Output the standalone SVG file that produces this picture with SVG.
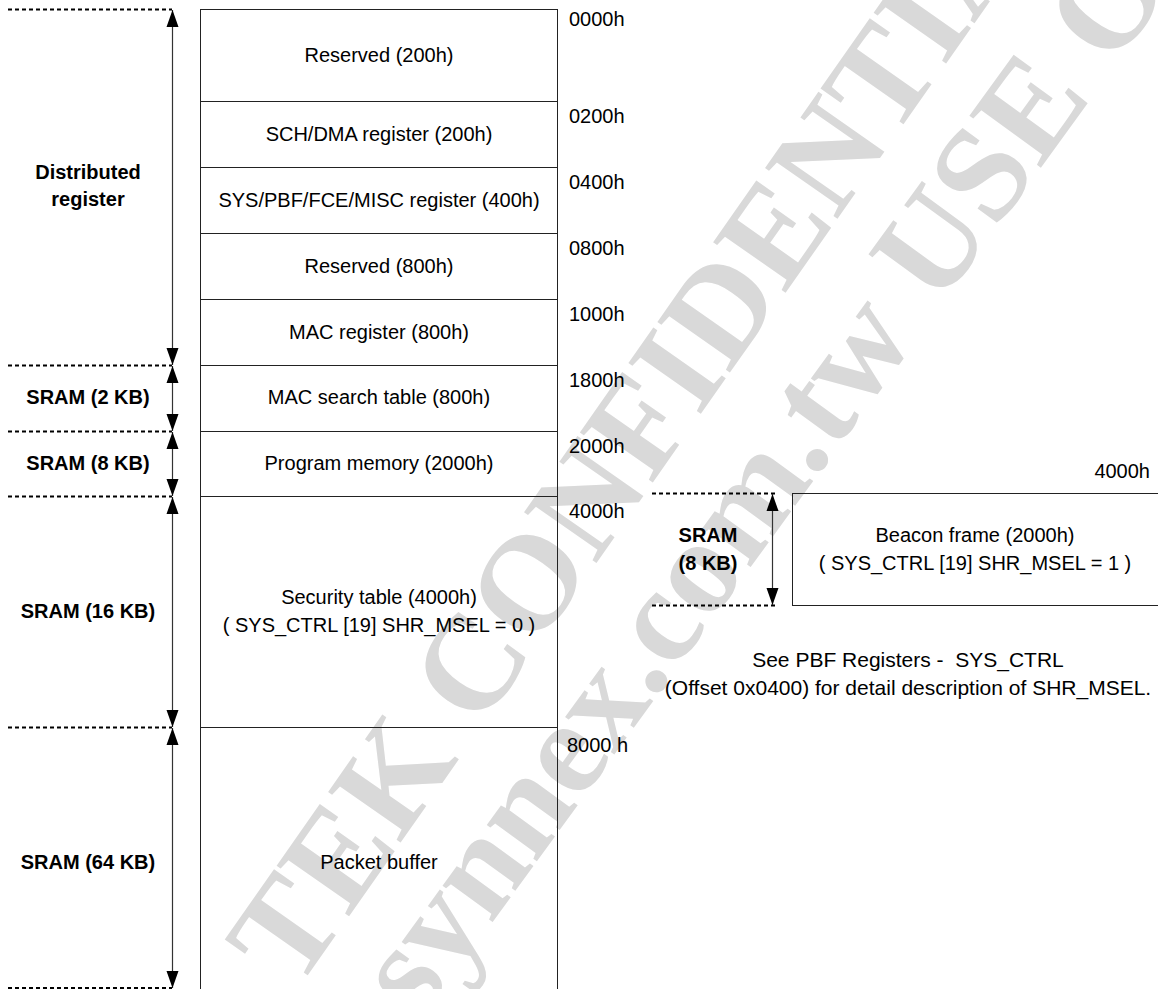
<svg xmlns="http://www.w3.org/2000/svg" width="1158" height="989" viewBox="0 0 1158 989">
<defs>
<marker id="ah" markerUnits="userSpaceOnUse" markerWidth="18" markerHeight="13" refX="17" refY="6" orient="auto-start-reverse" viewBox="0 0 18 12">
<path d="M0,0 L17,6 L0,12 z" fill="#000"/>
</marker>
<style>
.t{font-family:"Liberation Sans",Arial,sans-serif;font-size:20px;fill:#000;text-anchor:middle}
.n{font-family:"Liberation Sans",Arial,sans-serif;font-size:21px;fill:#000;text-anchor:middle}
.b{font-family:"Liberation Sans",Arial,sans-serif;font-size:20px;font-weight:bold;fill:#000;text-anchor:middle}
.a{font-family:"Liberation Sans",Arial,sans-serif;font-size:20px;fill:#000}
.box{fill:none;stroke:#222;stroke-width:1}
.dash{stroke:#000;stroke-width:2;stroke-dasharray:4 3;fill:none}
.arr{stroke:#333;stroke-width:1.2;fill:none}
.wm{font-family:"Liberation Serif","Times New Roman",serif;font-weight:bold;font-size:135px;fill:#d9d9d9}
</style>
</defs>
<rect width="1158" height="989" fill="#fff"/>
<g id="watermark">
<text class="wm" transform="translate(296,992) rotate(-55)">TEK CONFIDENTIAL</text>
<text class="wm" transform="translate(420,1022) rotate(-54)">synnex.com.tw USE O</text>
</g>
<g id="row-reserved-200"><rect class="box" x="200.5" y="9.5" width="357" height="92"/><text class="t" x="379" y="62">Reserved (200h)</text></g>
<g id="row-sch-dma"><rect class="box" x="200.5" y="101.5" width="357" height="66"/><text class="t" x="379" y="141">SCH/DMA register (200h)</text></g>
<g id="row-sys"><rect class="box" x="200.5" y="167.5" width="357" height="66"/><text class="t" x="379" y="207">SYS/PBF/FCE/MISC register (400h)</text></g>
<g id="row-reserved-800"><rect class="box" x="200.5" y="233.5" width="357" height="66"/><text class="t" x="379" y="273">Reserved (800h)</text></g>
<g id="row-mac-reg"><rect class="box" x="200.5" y="299.5" width="357" height="66"/><text class="t" x="379" y="339">MAC register (800h)</text></g>
<g id="row-mac-search"><rect class="box" x="200.5" y="365.5" width="357" height="66"/><text class="t" x="379" y="404">MAC search table (800h)</text></g>
<g id="row-program"><rect class="box" x="200.5" y="431.5" width="357" height="65"/><text class="t" x="379" y="470">Program memory (2000h)</text></g>
<g id="row-security"><rect class="box" x="200.5" y="496.5" width="357" height="231"/><text class="t" x="379" y="604">Security table (4000h)</text><text class="t" x="379" y="632">( SYS_CTRL [19] SHR_MSEL = 0 )</text></g>
<g id="row-packet"><rect class="box" x="200.5" y="727.5" width="357" height="300"/><text class="t" x="379" y="869">Packet buffer</text></g>
<g id="beacon"><rect class="box" x="792.5" y="493.5" width="400" height="112"/><text class="t" x="975" y="542">Beacon frame (2000h)</text><text class="t" x="975" y="570">( SYS_CTRL [19] SHR_MSEL = 1 )</text></g>
<g id="addresses">
<text class="a" x="569" y="26">0000h</text>
<text class="a" x="569" y="123">0200h</text>
<text class="a" x="569" y="189">0400h</text>
<text class="a" x="569" y="255">0800h</text>
<text class="a" x="569" y="321">1000h</text>
<text class="a" x="569" y="387">1800h</text>
<text class="a" x="569" y="453">2000h</text>
<text class="a" x="569" y="518">4000h</text>
<text class="a" x="567" y="752">8000 h</text>
<text class="a" x="1150" y="478" text-anchor="end">4000h</text>
</g>
<g id="labels">
<text class="b" x="88" y="179">Distributed</text>
<text class="b" x="88" y="206">register</text>
<text class="b" x="88" y="404">SRAM (2 KB)</text>
<text class="b" x="88" y="470">SRAM (8 KB)</text>
<text class="b" x="88" y="618">SRAM (16 KB)</text>
<text class="b" x="88" y="869">SRAM (64 KB)</text>
<text class="b" x="708" y="542">SRAM</text>
<text class="b" x="708" y="570">(8 KB)</text>
</g>
<g id="note">
<text class="n" x="908" y="667" xml:space="preserve">See PBF Registers -  SYS_CTRL</text>
<text class="n" x="908" y="695">(Offset 0x0400) for detail description of SHR_MSEL.</text>
</g>
<g id="connectors">
<path class="dash" d="M8,9.5H172M8,365.5H172M8,431.5H172M8,496.5H172M8,727.5H172M8,988H172M652,493.5H777M652,605.5H777"/>
<line class="arr" x1="172.5" y1="10" x2="172.5" y2="365" marker-start="url(#ah)" marker-end="url(#ah)"/>
<line class="arr" x1="172.5" y1="366" x2="172.5" y2="431" marker-start="url(#ah)" marker-end="url(#ah)"/>
<line class="arr" x1="172.5" y1="432" x2="172.5" y2="496" marker-start="url(#ah)" marker-end="url(#ah)"/>
<line class="arr" x1="172.5" y1="497" x2="172.5" y2="727" marker-start="url(#ah)" marker-end="url(#ah)"/>
<line class="arr" x1="172.5" y1="728" x2="172.5" y2="988" marker-start="url(#ah)" marker-end="url(#ah)"/>
<line class="arr" x1="772.5" y1="494" x2="772.5" y2="605" marker-start="url(#ah)" marker-end="url(#ah)"/>
</g>
</svg>
